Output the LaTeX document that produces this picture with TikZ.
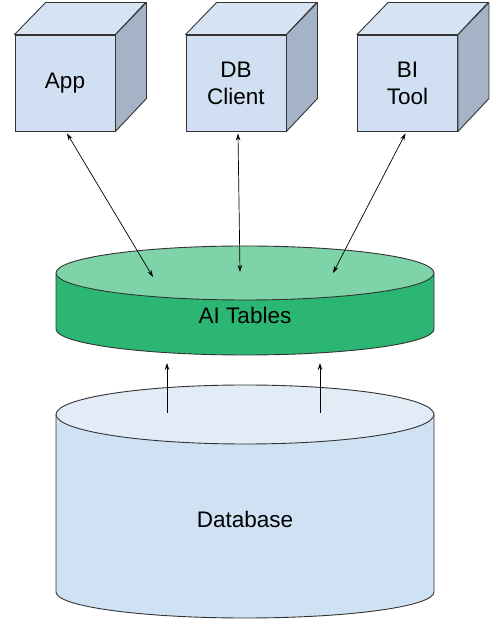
\documentclass[tikz,border=0pt]{standalone}
\usepackage{fontspec}
\setmainfont{Liberation Sans}
\usetikzlibrary{arrows.meta}
\definecolor{cubefront}{HTML}{D0E0F2}
\definecolor{cubetop}{HTML}{D5E3F3}
\definecolor{cubeside}{HTML}{A4B4C6}
\definecolor{aitop}{HTML}{7ED3A8}
\definecolor{aiside}{HTML}{2BB673}
\definecolor{dbtop}{HTML}{E1ECF7}
\definecolor{dbside}{HTML}{CFE2F3}
\definecolor{edge}{HTML}{333333}
\tikzset{
  cubeface/.style={draw=edge, fill=cubefront, line width=0.9pt, minimum width=100pt, minimum height=96pt, inner sep=0pt, align=center, font=\fontsize{22.5}{27}\selectfont},
  cubetopface/.style={draw=edge, fill=cubetop, line width=0.9pt, line join=round},
  cubesideface/.style={draw=edge, fill=cubeside, line width=0.9pt, line join=round},
  lbl/.style={font=\fontsize{22.5}{27}\selectfont, inner sep=0pt},
  conn/.style={line width=0.7pt, black, {Stealth[length=7pt,width=4.5pt]}-{Stealth[length=7pt,width=4.5pt]}},
  upconn/.style={line width=0.7pt, black, -{Stealth[length=7pt,width=4.5pt]}},
  rim/.style={draw=edge, line width=0.9pt}
}
\begin{document}
\begin{tikzpicture}[x=1pt,y=1pt]
\useasboundingbox (0,0) rectangle (500,628);
\fill[white] (0,0) rectangle (500,628);

% cubes
\foreach \nm/\cx/\txt in {app/65/App, dbc/236/DB\\Client, bit/407.5/BI\\Tool}{
  \node[cubeface] (\nm) at (\cx,545) {\txt};
  \draw[cubetopface] (\nm.north west) -- ++(31,32) -- ++(100,0) -- (\nm.north east) -- cycle;
  \draw[cubesideface] (\nm.north east) -- ++(31,32) -- ++(0,-96) -- (\nm.south east) -- cycle;
}

% Database cylinder
\fill[dbside] (56,213.5) -- (56,36) arc[start angle=180,end angle=360,x radius=189,y radius=26] -- (434,213.5) -- cycle;
\draw[rim] (56,213.5) -- (56,36) arc[start angle=180,end angle=360,x radius=189,y radius=26] -- (434,213.5);
\draw[rim, fill=dbtop] (245,213.5) ellipse[x radius=189, y radius=29.5];
\node[lbl] (db) at (245,109) {Database};

% AI Tables disk
\fill[aiside] (56,355) -- (56,299) arc[start angle=180,end angle=360,x radius=189,y radius=26] -- (434,355) -- cycle;
\draw[rim] (56,355) -- (56,299) arc[start angle=180,end angle=360,x radius=189,y radius=26] -- (434,355);
\draw[rim, fill=aitop] (245,355) ellipse[x radius=189, y radius=27];
\node[lbl] (ait) at (245,313) {AI Tables};

% connector end points
\coordinate (a1) at (153,351);
\coordinate (a2) at (240,356);
\coordinate (a3) at (333,355);
\coordinate (d1) at (167,215);
\coordinate (d2) at (320,215);
\coordinate (b1) at (167,265);
\coordinate (b2) at (320,265);

\draw[conn] ([xshift=2pt,yshift=-2pt]app.south) -- (a1);
\draw[conn] ([xshift=2pt,yshift=-2pt]dbc.south) -- (a2);
\draw[conn] ([xshift=-2pt,yshift=-2pt]bit.south) -- (a3);
\draw[upconn] (d1) -- (b1);
\draw[upconn] (d2) -- (b2);
\end{tikzpicture}
\end{document}
